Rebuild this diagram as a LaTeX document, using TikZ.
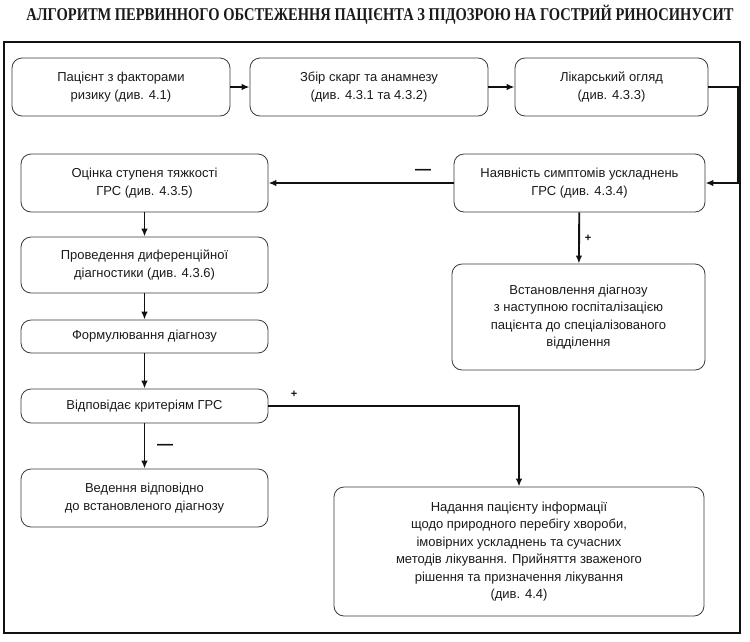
\documentclass[tikz,border=0pt]{standalone}
\usepackage{fontspec}
\setmainfont{Liberation Sans}
\newfontfamily\titlefont{Liberation Serif}
\usetikzlibrary{arrows.meta}
\definecolor{FlowText}{HTML}{1A1A1A}
\definecolor{FlowEdge}{HTML}{3A3A3A}
\definecolor{FlowArrow}{HTML}{111111}

\begin{document}
\begin{tikzpicture}[x=1pt,y=-1pt,
    stage/.style={draw=FlowEdge,line width=0.8pt,rounded corners=10pt,align=center,
      text=FlowText,inner sep=0pt,font=\fontsize{13}{17.5}\selectfont},
    link/.style={FlowArrow,line width=1.9pt,-{Latex[length=8pt,width=6.5pt]}},
    sign/.style={text=FlowArrow,inner sep=0pt,font=\bfseries\fontsize{11}{11}\selectfont}]
  \useasboundingbox (0,0) rectangle (750,641);
  \node[text=FlowText,inner sep=0pt] (title) at (380,15)
    {\scalebox{0.806}[1]{\titlefont\bfseries\fontsize{18}{20}\selectfont
      АЛГОРИТМ ПЕРВИННОГО ОБСТЕЖЕННЯ ПАЦІЄНТА З ПІДОЗРОЮ НА ГОСТРИЙ РИНОСИНУСИТ}};
  \draw[FlowArrow,line width=1.2pt] (4,42) rectangle (740,633);
  % top row
  \node[stage,minimum width=218pt,minimum height=58pt] (risk) at (121,87)
    {Пацієнт з факторами\\ризику (див. 4.1)};
  \node[stage,minimum width=238pt,minimum height=58pt] (anamnesis) at (369,87)
    {Збір скарг та анамнезу\\(див. 4.3.1 та 4.3.2)};
  \node[stage,minimum width=193pt,minimum height=58pt] (exam) at (611.5,87)
    {Лікарський огляд\\(див. 4.3.3)};
  % right column
  \node[stage,minimum width=251pt,minimum height=58pt] (complic) at (579.5,183)
    {Наявність симптомів ускладнень\\ГРС (див. 4.3.4)};
  \node[stage,minimum width=253pt,minimum height=106pt] (hosp) at (578.5,317)
    {Встановлення діагнозу\\з наступною госпіталізацією\\пацієнта до спеціалізованого\\відділення};
  % left column
  \node[stage,minimum width=247pt,minimum height=58pt] (severity) at (144.5,183)
    {Оцінка ступеня тяжкості\\ГРС (див. 4.3.5)};
  \node[stage,minimum width=247pt,minimum height=56pt] (diffdx) at (144.5,265)
    {Проведення диференційної\\діагностики (див. 4.3.6)};
  \node[stage,minimum width=247pt,minimum height=33pt] (formul) at (144.5,336.5)
    {Формулювання діагнозу};
  \node[stage,minimum width=247pt,minimum height=34pt] (criteria) at (144.5,406)
    {Відповідає критеріям ГРС};
  \node[stage,minimum width=247pt,minimum height=58pt] (routine) at (144.5,498)
    {Ведення відповідно\\до встановленого діагнозу};
  \node[stage,minimum width=370pt,minimum height=129pt] (inform) at (519,551.5)
    {Надання пацієнту інформації\\щодо природного перебігу хвороби,\\імовірних ускладнень та сучасних\\методів лікування. Прийняття зваженого\\рішення та призначення лікування\\(див. 4.4)};
  % connectors
  \coordinate (bend) at (738,87);
  \draw[link] (risk) -- (anamnesis);
  \draw[link] (anamnesis) -- (exam);
  \draw[link] (exam) -- (bend) |- (complic.east);
  \draw[link] (complic) -- (severity);
  \draw[link] (complic) -- (hosp);
  \draw[link] (severity) -- (diffdx);
  \draw[link] (diffdx) -- (formul);
  \draw[link] (formul) -- (criteria);
  \draw[link] (criteria) -- (routine);
  \draw[link] (criteria.east) -| (inform.north);
  % branch signs
  \node[sign,font=\bfseries\fontsize{16}{16}\selectfont] (no1) at (423,172) {—};
  \node[sign] (yes1) at (588,238) {+};
  \node[sign] (yes2) at (294,394) {+};
  \node[sign,font=\bfseries\fontsize{16}{16}\selectfont] (no2) at (165,447) {—};
\end{tikzpicture}
\end{document}
